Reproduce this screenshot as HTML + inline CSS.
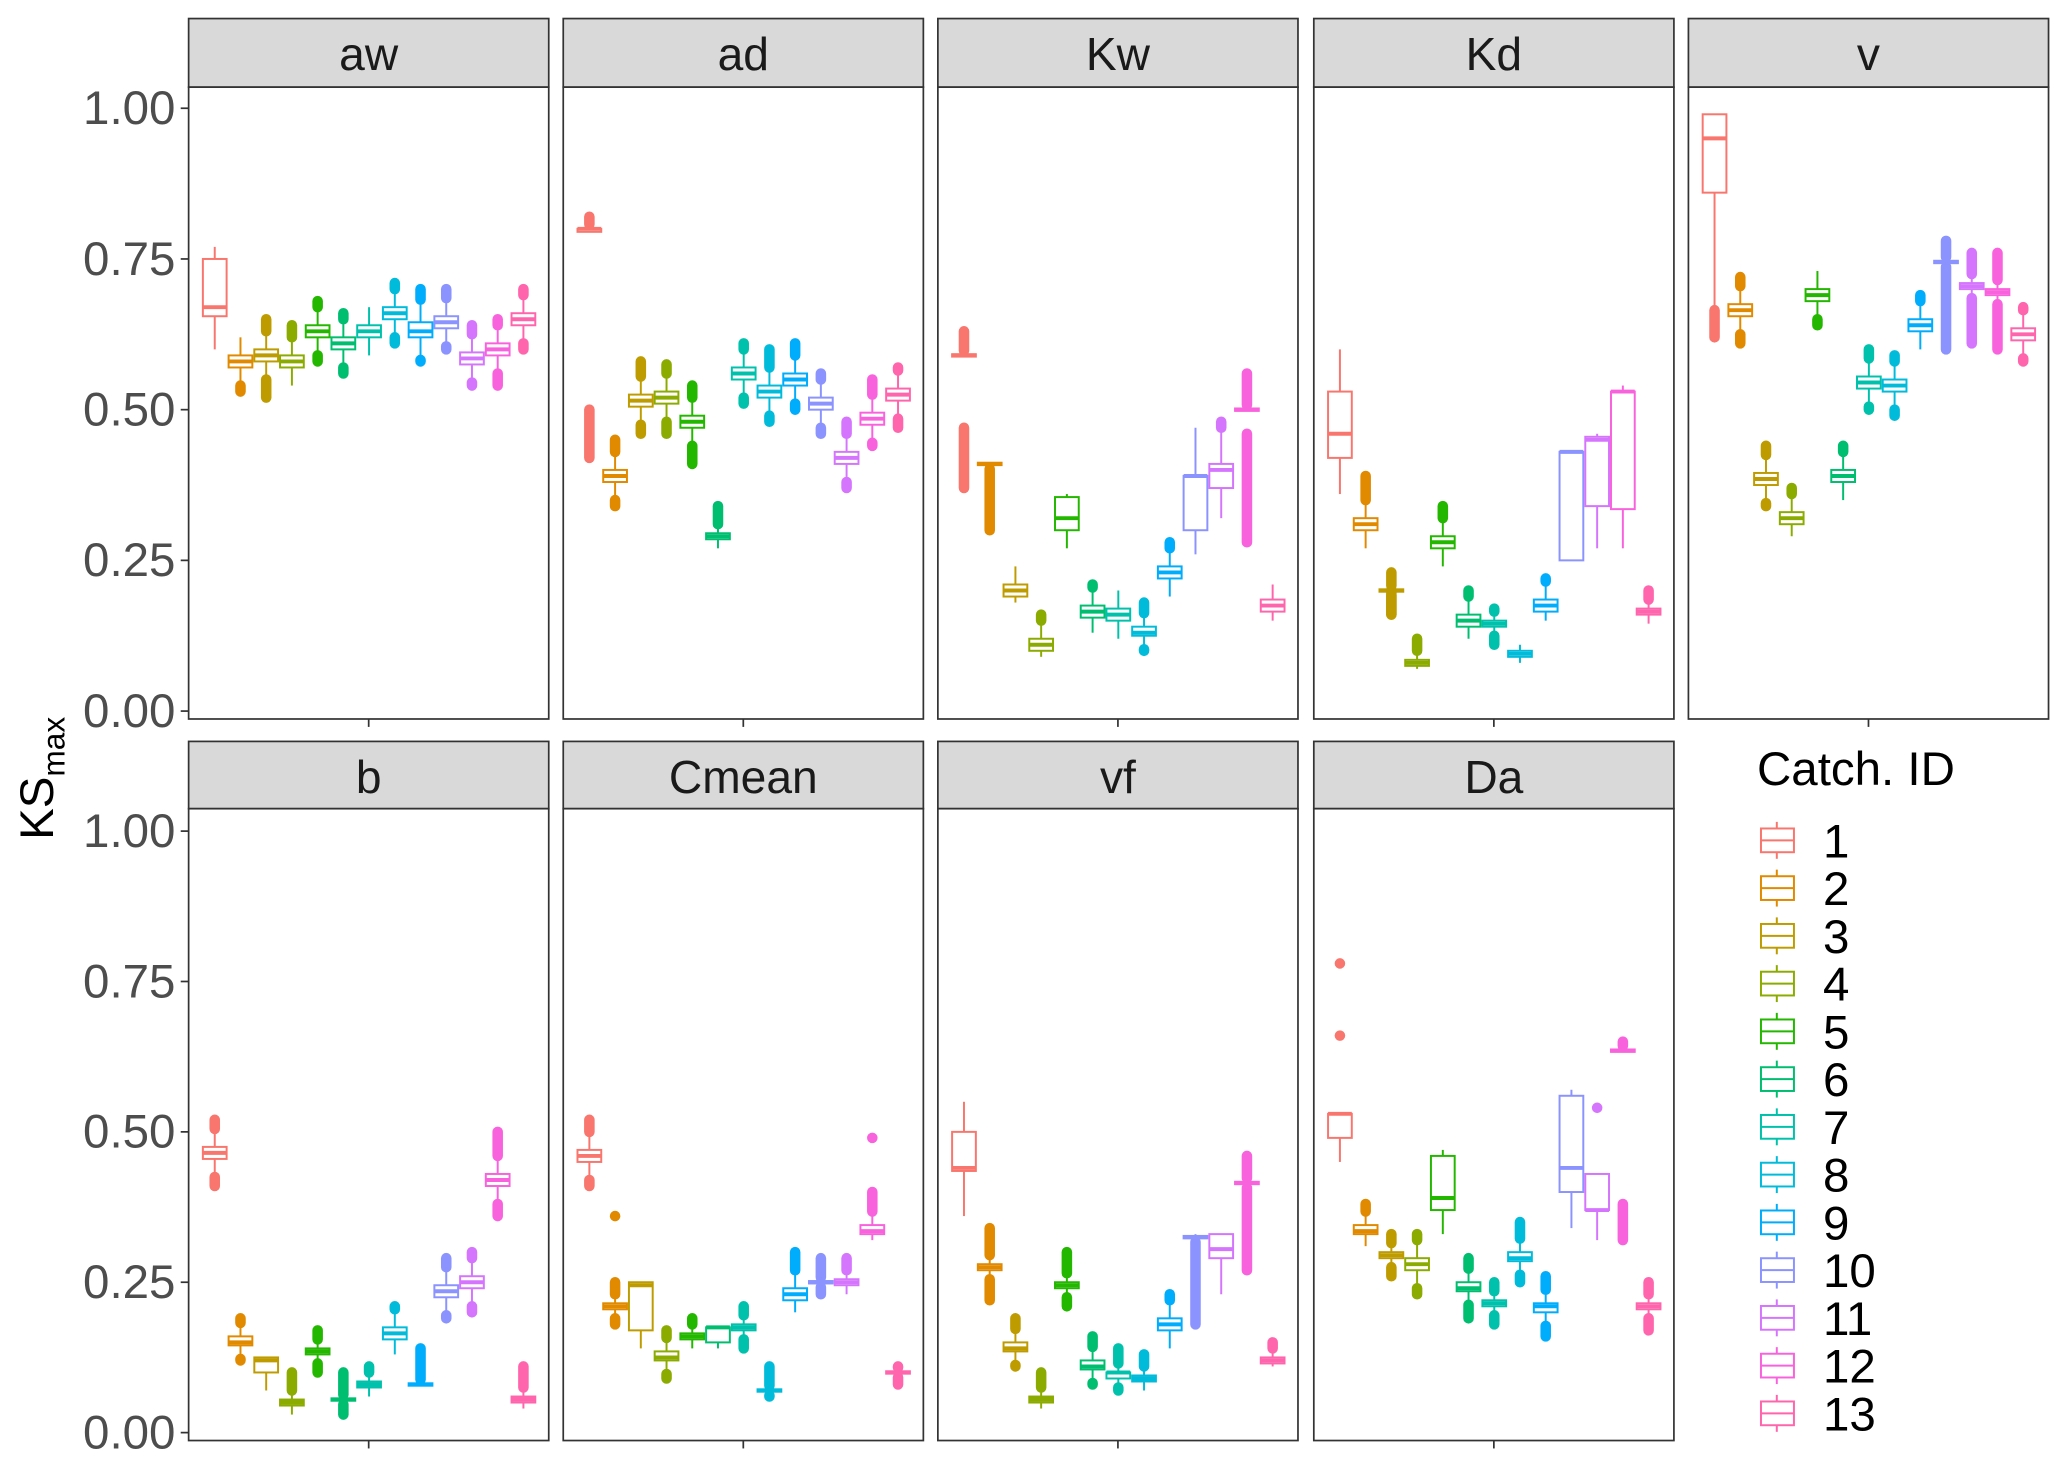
<!DOCTYPE html>
<html><head><meta charset="utf-8"><style>
html,body{margin:0;padding:0;background:#fff;}
svg{display:block;font-family:"Liberation Sans",Arial,sans-serif;}
</style></head><body>
<svg id="chart" width="2067" height="1467" viewBox="0 0 1567 1112" xmlns="http://www.w3.org/2000/svg"></svg>
<script>
const panelNames = ["aw","ad","Kw","Kd","v","b","Cmean","vf","Da"];
const catchIds = ["1","2","3","4","5","6","7","8","9","10","11","12","13"];
const colors = ["#F8766D","#E18A00","#BE9C00","#8CAB00","#24B700","#00BE70","#00C1AB","#00BBDA","#00ACFC","#8B93FF","#D575FE","#F962DD","#FF65AC"];
const yTicks = [0,0.25,0.5,0.75,1];
const yTickLabels = ["0.00","0.25","0.50","0.75","1.00"];
// per-panel: median, q1, q3, lo (min extent), hi (max extent)
const med = [
 [0.67,0.58,0.59,0.58,0.63,0.61,0.63,0.66,0.63,0.645,0.585,0.60,0.65],
 [0.80,0.39,0.515,0.52,0.48,0.29,0.56,0.53,0.55,0.51,0.42,0.485,0.525],
 [0.59,0.41,0.20,0.11,0.32,0.165,0.16,0.13,0.23,0.39,0.40,0.50,0.175],
 [0.46,0.31,0.20,0.08,0.28,0.15,0.145,0.095,0.175,0.43,0.45,0.53,0.165],
 [0.95,0.665,0.385,0.32,0.69,0.39,0.545,0.54,0.64,0.745,0.705,0.695,0.625],
 [0.465,0.15,0.12,0.05,0.135,0.055,0.08,0.165,0.08,0.235,0.25,0.42,0.055],
 [0.46,0.21,0.245,0.125,0.16,0.175,0.175,0.07,0.23,0.25,0.25,0.335,0.10],
 [0.44,0.275,0.14,0.055,0.245,0.11,0.10,0.09,0.18,0.325,0.305,0.415,0.12],
 [0.53,0.335,0.295,0.28,0.39,0.24,0.215,0.29,0.21,0.44,0.37,0.635,0.21]];
const q1 = [
 [0.655,0.57,0.58,0.57,0.62,0.60,0.62,0.65,0.62,0.635,0.575,0.59,0.64],
 [0.795,0.38,0.505,0.51,0.47,0.285,0.55,0.52,0.54,0.50,0.41,0.475,0.515],
 [0.588,0.408,0.19,0.10,0.30,0.155,0.15,0.125,0.22,0.30,0.37,0.498,0.165],
 [0.42,0.30,0.198,0.075,0.27,0.14,0.14,0.09,0.165,0.25,0.34,0.335,0.16],
 [0.86,0.655,0.375,0.31,0.68,0.38,0.535,0.53,0.63,0.743,0.70,0.69,0.615],
 [0.455,0.145,0.10,0.045,0.13,0.053,0.075,0.155,0.078,0.225,0.24,0.41,0.05],
 [0.45,0.205,0.17,0.12,0.155,0.15,0.17,0.068,0.22,0.248,0.245,0.33,0.098],
 [0.435,0.27,0.135,0.05,0.24,0.105,0.09,0.085,0.17,0.323,0.29,0.413,0.115],
 [0.49,0.33,0.29,0.27,0.37,0.235,0.21,0.285,0.20,0.40,0.37,0.633,0.205]];
const q3 = [
 [0.75,0.59,0.60,0.59,0.64,0.62,0.64,0.67,0.645,0.655,0.595,0.61,0.66],
 [0.80,0.40,0.525,0.53,0.49,0.295,0.57,0.54,0.56,0.52,0.43,0.495,0.535],
 [0.592,0.412,0.21,0.12,0.355,0.175,0.17,0.14,0.24,0.39,0.41,0.502,0.185],
 [0.53,0.32,0.202,0.085,0.29,0.16,0.15,0.10,0.185,0.43,0.455,0.53,0.17],
 [0.99,0.675,0.395,0.33,0.70,0.40,0.555,0.55,0.65,0.747,0.71,0.70,0.635],
 [0.475,0.16,0.125,0.055,0.14,0.057,0.085,0.175,0.082,0.245,0.26,0.43,0.06],
 [0.47,0.215,0.25,0.135,0.165,0.175,0.18,0.072,0.24,0.252,0.255,0.345,0.102],
 [0.50,0.28,0.15,0.06,0.25,0.12,0.10,0.095,0.19,0.327,0.33,0.417,0.125],
 [0.53,0.345,0.30,0.29,0.46,0.25,0.22,0.30,0.215,0.56,0.43,0.637,0.215]];
const lo = [
 [0.60,0.53,0.52,0.54,0.58,0.56,0.59,0.61,0.58,0.60,0.54,0.54,0.60],
 [0.795,0.34,0.46,0.46,0.41,0.27,0.51,0.48,0.50,0.46,0.37,0.44,0.47],
 [0.588,0.30,0.18,0.09,0.27,0.13,0.12,0.10,0.19,0.26,0.32,0.498,0.15],
 [0.36,0.27,0.16,0.07,0.24,0.12,0.11,0.08,0.15,0.25,0.27,0.27,0.145],
 [0.62,0.61,0.34,0.29,0.64,0.35,0.50,0.49,0.60,0.60,0.61,0.60,0.58],
 [0.41,0.12,0.07,0.03,0.10,0.03,0.06,0.13,0.078,0.19,0.20,0.36,0.04],
 [0.41,0.18,0.14,0.09,0.14,0.14,0.14,0.06,0.20,0.23,0.23,0.32,0.08],
 [0.36,0.22,0.11,0.04,0.21,0.08,0.07,0.07,0.14,0.18,0.23,0.27,0.11],
 [0.45,0.31,0.26,0.23,0.33,0.19,0.18,0.25,0.16,0.34,0.32,0.633,0.17]];
const hi = [
 [0.77,0.62,0.65,0.64,0.68,0.66,0.67,0.71,0.70,0.70,0.64,0.65,0.70],
 [0.82,0.45,0.58,0.575,0.54,0.34,0.61,0.60,0.61,0.56,0.48,0.55,0.57],
 [0.63,0.412,0.24,0.16,0.36,0.21,0.20,0.18,0.28,0.47,0.48,0.56,0.21],
 [0.60,0.39,0.23,0.12,0.34,0.20,0.17,0.11,0.22,0.43,0.46,0.54,0.20],
 [0.99,0.72,0.44,0.37,0.73,0.44,0.60,0.59,0.69,0.78,0.76,0.76,0.67],
 [0.52,0.19,0.125,0.10,0.17,0.10,0.11,0.21,0.14,0.29,0.30,0.50,0.11],
 [0.52,0.25,0.25,0.17,0.19,0.175,0.21,0.11,0.30,0.29,0.29,0.40,0.11],
 [0.55,0.34,0.19,0.10,0.30,0.16,0.14,0.13,0.23,0.33,0.33,0.46,0.15],
 [0.53,0.38,0.33,0.33,0.47,0.29,0.25,0.35,0.26,0.57,0.43,0.65,0.25]];
// extra detached outlier ranges [panel, box, from, to]
const extraOut = [[1,0,0.42,0.50],[2,0,0.37,0.47],[2,11,0.28,0.46],[6,1,0.36,0.36],[6,11,0.49,0.49],[8,0,0.66,0.66],[8,0,0.78,0.78],[8,10,0.54,0.54],[8,11,0.32,0.38],[3,2,0.16,0.20]];

const NS = "http://www.w3.org/2000/svg";
const svg = document.getElementById("chart");
function mk(tag, attrs, parent){const e=document.createElementNS(NS,tag);for(const k in attrs)e.setAttribute(k,attrs[k]);(parent||svg).appendChild(e);return e;}
const lefts=[143,427,711,996,1280], PW=273;
const rows=[{stripTop:14,plotTop:66,plotBot:545,y0:539,y1:82},{stripTop:562,plotTop:613,plotBot:1092,y0:1086,y1:630}];

panelNames.forEach((name,p)=>{
  const r=rows[p<5?0:1], L=lefts[p%5];
  const yS=v=>r.y0-(r.y0-r.y1)*v;
  const xS=i=>L+19.8+i*19.5;
  const g=mk("g",{});
  
  
  const strip=mk("rect",{x:L,y:r.stripTop,width:PW,height:r.plotTop-r.stripTop,fill:"#D9D9D9",stroke:"#333",'stroke-width':1.3},g);
  
  
  const st=mk("text",{x:L+PW/2,y:r.stripTop+39,'text-anchor':'middle','font-size':35,fill:'#1A1A1A'},g);
  st.textContent=name;
  
  
  const fr=mk("rect",{x:L,y:r.plotTop,width:PW,height:r.plotBot-r.plotTop,fill:"#fff",stroke:"#333",'stroke-width':1.3},g);
  
  
  mk("line",{x1:L+PW/2,x2:L+PW/2,y1:r.plotBot,y2:r.plotBot+6,stroke:'#333','stroke-width':1.3},g);
  if(p%5===0){
    yTicks.forEach((t,k)=>{
      mk("line",{x1:L-6,x2:L,y1:yS(t),y2:yS(t),stroke:'#333','stroke-width':1.3},g);
      const tl=mk("text",{x:L-10,y:yS(t)+12,'text-anchor':'end','font-size':36,fill:'#4D4D4D'},g);
      tl.textContent=yTickLabels[k];
      
      
    });
  }
  for(let i=0;i<13;i++){
    const c=colors[i], x=xS(i), w=18;
    const bg=mk("g",{},g);
    
    
    const iqr=q3[p][i]-q1[p][i];
    const wHi=Math.min(hi[p][i],q3[p][i]+1.5*iqr), wLo=Math.max(lo[p][i],q1[p][i]-1.5*iqr);
    if(hi[p][i]>wHi+0.001) mk("line",{x1:x,x2:x,y1:yS(wHi),y2:yS(hi[p][i]),stroke:c,'stroke-width':8,'stroke-linecap':'round'},bg);
    if(lo[p][i]<wLo-0.001) mk("line",{x1:x,x2:x,y1:yS(wLo),y2:yS(lo[p][i]),stroke:c,'stroke-width':8,'stroke-linecap':'round'},bg);
    mk("line",{x1:x,x2:x,y1:yS(q3[p][i]),y2:yS(wHi),stroke:c,'stroke-width':1.5},bg);
    mk("line",{x1:x,x2:x,y1:yS(q1[p][i]),y2:yS(wLo),stroke:c,'stroke-width':1.5},bg);
    mk("rect",{x:x-w/2,y:yS(q3[p][i]),width:w,height:Math.max(0.1,yS(q1[p][i])-yS(q3[p][i])),fill:'#fff',stroke:c,'stroke-width':1.5},bg);
    mk("line",{x1:x-w/2,x2:x+w/2,y1:yS(med[p][i]),y2:yS(med[p][i]),stroke:c,'stroke-width':3},bg);
  }
  extraOut.forEach(o=>{
    if(o[0]!==p)return;
    const ol=mk("line",{x1:xS(o[1]),x2:xS(o[1]),y1:yS(o[2]),y2:yS(o[3]),stroke:colors[o[1]],'stroke-width':8,'stroke-linecap':'round'},g);
    
    
  });
});
const yt=mk("text",{x:0,y:0,transform:'translate(40,590) rotate(-90)','text-anchor':'middle','font-size':36,fill:'#000'});
yt.innerHTML='KS<tspan font-size="24" dy="9">max</tspan>';


const lg=mk("g",{});


const lt=mk("text",{x:1332,y:595,'font-size':36,fill:'#000'},lg);
lt.textContent="Catch. ID";


catchIds.forEach((id,i)=>{
  const cy=637+i*36.2, c=colors[i];
  const e=mk("g",{},lg);
  
  
  mk("line",{x1:1347,x2:1347,y1:cy-14,y2:cy+14,stroke:c,'stroke-width':1.5},e);
  mk("rect",{x:1335,y:cy-9,width:25,height:18,fill:'#fff',stroke:c,'stroke-width':1.5},e);
  mk("line",{x1:1335,x2:1360,y1:cy,y2:cy,stroke:c,'stroke-width':1.5},e);
  const t=mk("text",{x:1382,y:cy+13,'font-size':36,fill:'#000'},e);
  t.textContent=id;
});
</script>
</body></html>
